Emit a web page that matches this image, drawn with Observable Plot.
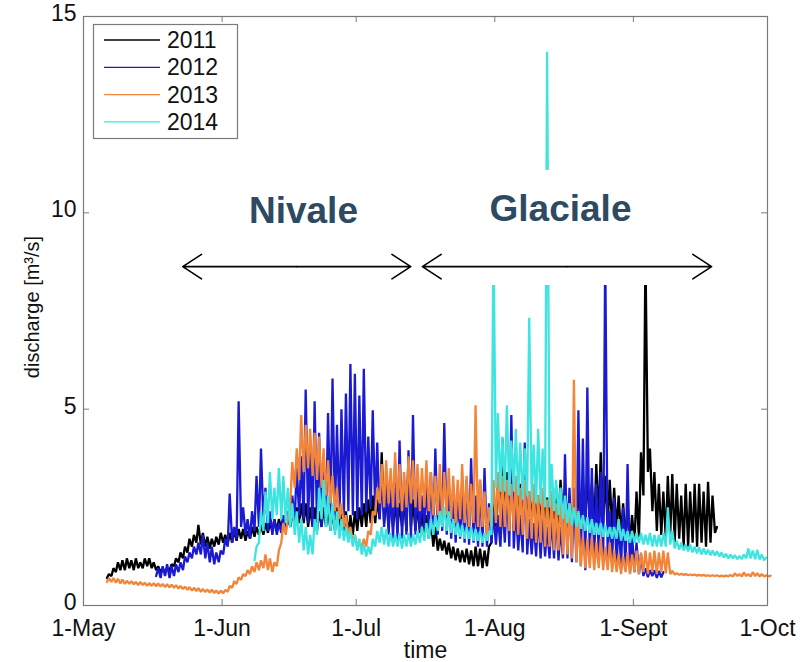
<!DOCTYPE html>
<html>
<head>
<meta charset="utf-8">
<script src="https://cdn.jsdelivr.net/npm/d3@7"></script>
<script src="https://cdn.jsdelivr.net/npm/@observablehq/plot@0.6"></script>
<style>
  html, body { margin: 0; padding: 0; background: #fff; }
  #chart svg { display: block; }
</style>
</head>
<body>
<div id="chart"></div>
<script>
// Seasonal discharge, 1 May – 1 Oct, one line per year.
// Each year is stored as daily minimum / daily maximum discharge [m³/s],
// starting at the day index given in startDay (0 = 1 May).
const years = ["2011", "2012", "2013", "2014"];
const colors = ["#000000", "#1a1ad2", "#f2853a", "#3ee4e0"];
const startDay = [5, 16, 5, 38];

const low2011 = [
  0.7,0.75,0.85,0.9,0.9,0.95,0.9,0.95,0.95,1.0,
  0.95,0.9,0.85,0.85,0.9,1.0,1.1,1.2,1.35,1.5,
  1.6,1.55,1.5,1.45,1.5,1.55,1.6,1.55,1.6,1.65,
  1.7,1.65,1.7,1.75,1.8,1.8,1.85,1.9,1.9,1.95,
  2.0,2.0,2.0,2.1,2.1,2.0,2.0,1.95,2.0,2.0,
  1.9,1.9,2.0,1.9,1.8,1.8,1.9,2.0,2.0,2.1,
  2.1,2.2,2.1,2.0,2.0,2.0,2.0,1.9,2.0,1.9,
  1.85,1.8,1.7,1.5,1.4,1.4,1.3,1.2,1.15,1.1,
  1.1,1.05,1.0,1.0,0.95,1.0,1.6,2.0,2.3,2.2,
  2.1,2.0,2.1,2.0,2.0,2.1,2.0,2.1,2.2,2.1,
  2.2,2.1,2.2,2.1,2.0,2.1,2.0,2.2,2.1,2.0,
  2.2,2.1,2.0,2.0,1.9,1.8,1.7,1.6,1.6,1.7,
  2.8,3.4,2.4,1.9,1.8,1.7,1.8,1.6,1.7,1.5,
  1.5,1.6,1.5,1.6,1.5,1.6,1.85
];
const high2011 = [
  0.8,0.95,1.1,1.15,1.2,1.15,1.2,1.1,1.2,1.2,
  1.1,1.0,0.95,0.95,1.05,1.2,1.35,1.5,1.7,1.8,
  2.05,1.85,1.75,1.7,1.75,1.85,1.8,1.85,1.9,1.95,
  1.95,1.9,2.0,2.0,2.05,2.1,2.1,2.2,2.2,2.3,
  2.3,2.4,2.5,2.6,2.6,2.5,2.5,2.4,2.5,2.5,
  2.4,2.5,2.5,2.4,2.3,2.4,2.5,2.6,2.7,2.8,
  2.7,3.9,2.8,2.7,2.6,2.6,2.7,3.8,2.7,2.6,
  2.4,2.3,2.2,2.0,1.7,1.65,1.6,1.5,1.45,1.4,
  1.45,1.4,1.5,1.45,1.4,1.5,2.6,3.2,4.25,3.4,
  3.2,3.0,3.1,3.0,2.9,3.0,2.8,2.9,2.75,2.9,
  3.0,3.2,2.9,2.8,2.7,3.0,2.9,3.3,3.1,3.6,
  3.9,3.3,3.2,3.0,2.8,2.6,2.5,2.3,2.9,3.9,
  9.0,4.0,3.4,3.1,2.9,3.3,3.35,3.1,2.8,3.1,
  2.9,3.1,3.1,2.9,3.15,2.8,2.0
];

const low2012 = [
  0.75,0.7,0.75,0.7,0.75,0.85,0.9,1.1,1.2,1.3,
  1.3,1.2,1.1,1.05,1.1,1.3,1.5,1.6,1.7,2.0,
  1.8,1.7,1.9,2.0,2.1,1.9,1.8,1.8,1.85,1.9,
  2.0,2.2,2.3,2.2,2.1,2.0,1.9,2.0,2.1,2.2,
  2.3,2.2,2.3,2.4,2.3,2.2,2.3,2.4,2.5,2.4,
  2.2,2.0,1.8,1.7,1.6,1.7,1.8,1.7,1.8,1.9,
  2.0,1.9,1.8,1.8,1.9,1.8,1.7,1.6,1.7,1.6,
  1.55,1.6,1.5,1.5,1.5,1.6,1.55,1.5,1.6,1.5,
  1.45,1.4,1.35,1.3,1.3,1.25,1.2,1.25,1.2,1.2,
  1.15,1.2,1.2,1.1,1.1,1.0,0.9,1.1,1.2,1.3,
  1.2,1.2,1.1,1.0,1.0,0.9,0.85,0.85,0.8,0.75,
  0.72,0.75,0.7,0.72
];
const high2012 = [
  0.95,1.0,1.05,1.0,1.05,1.1,1.25,1.35,1.5,1.6,
  1.8,1.6,1.5,1.35,1.4,1.7,2.85,2.0,5.2,2.5,
  2.2,2.4,3.3,4.0,3.0,2.4,2.2,2.1,2.3,2.4,
  2.8,3.5,3.8,5.5,4.0,5.2,4.4,3.8,4.9,5.78,
  4.6,5.0,5.4,6.15,5.9,5.35,6.03,4.3,4.97,4.15,
  3.4,3.2,3.0,3.6,4.2,3.2,3.95,4.85,3.0,2.8,
  3.1,3.4,4.0,3.2,4.65,3.1,2.8,3.0,2.9,3.2,
  3.75,2.8,3.2,3.5,2.6,2.4,2.3,2.6,3.0,4.85,
  2.5,2.3,4.15,2.2,2.1,2.4,2.2,2.0,2.3,2.4,
  2.0,3.85,3.0,3.0,4.97,4.25,5.55,3.5,3.1,3.4,
  9.0,2.4,2.75,2.2,2.5,3.6,1.8,1.6,1.3,0.95,
  0.9,0.9,0.88,0.85
];

const low2013 = [
  0.6,0.6,0.58,0.56,0.55,0.55,0.54,0.52,0.52,0.5,
  0.5,0.49,0.48,0.47,0.46,0.45,0.43,0.42,0.4,0.38,
  0.37,0.35,0.34,0.33,0.32,0.3,0.31,0.35,0.45,0.55,
  0.65,0.75,0.8,0.85,0.9,0.95,0.9,0.85,1.0,1.6,
  1.8,2.6,3.0,3.2,3.4,3.5,3.3,3.2,3.0,2.8,
  2.6,2.4,2.2,2.0,1.8,1.6,1.5,1.45,1.5,1.8,
  2.3,2.6,2.5,2.6,2.5,2.5,2.4,2.5,2.6,2.5,
  2.4,2.5,2.4,2.3,2.3,2.2,2.3,2.2,2.1,2.2,
  2.1,2.0,2.1,2.0,2.0,1.65,2.0,2.1,2.0,2.0,
  1.9,1.9,1.8,1.8,1.7,1.7,1.6,1.6,1.5,1.5,
  1.4,1.4,1.3,1.3,1.2,1.1,1.0,0.95,0.95,0.9,
  0.95,0.9,0.9,0.85,0.85,0.8,0.85,0.8,0.85,0.8,
  0.85,0.8,0.85,0.8,0.85,0.82,0.8,0.79,0.78,0.78,
  0.77,0.77,0.76,0.76,0.75,0.75,0.75,0.74,0.74,0.74,
  0.74,0.75,0.74,0.75,0.74,0.75,0.74,0.74,0.74
];
const high2013 = [
  0.7,0.7,0.68,0.66,0.63,0.62,0.6,0.6,0.58,0.57,
  0.57,0.56,0.55,0.54,0.53,0.52,0.5,0.48,0.47,0.45,
  0.44,0.42,0.41,0.4,0.38,0.38,0.4,0.5,0.62,0.72,
  0.8,0.9,1.0,1.1,1.15,1.3,1.2,1.1,1.4,2.1,
  2.2,3.65,4.0,4.85,4.6,4.5,4.4,4.3,4.0,3.7,
  3.3,3.0,2.6,2.3,2.0,1.8,1.65,1.7,1.9,2.4,
  3.0,3.6,3.7,3.5,3.9,3.6,3.4,3.8,3.7,3.6,
  3.5,3.7,3.4,3.3,3.6,3.4,3.5,3.3,3.2,3.6,
  3.3,3.1,5.1,3.2,2.9,2.5,3.2,3.4,3.3,3.2,
  3.1,3.3,3.0,3.2,2.9,3.1,2.8,3.0,2.7,2.9,
  2.6,2.8,2.5,2.6,5.75,2.2,1.75,1.7,1.75,1.6,
  1.7,1.5,1.6,1.4,1.3,1.25,1.35,1.3,1.4,1.35,
  1.4,1.35,1.4,1.35,1.4,1.35,0.88,0.82,0.81,0.8,
  0.79,0.79,0.78,0.78,0.77,0.77,0.77,0.76,0.76,0.78,
  0.82,0.8,0.84,0.8,0.85,0.82,0.8,0.77,0.76
];

const low2014 = [
  1.15,1.6,1.9,2.1,2.2,2.3,2.2,2.1,2.0,1.8,
  1.6,1.4,1.3,1.3,1.8,2.2,2.0,1.9,1.8,1.7,
  1.65,1.6,1.5,1.4,1.3,1.25,1.3,1.5,1.6,1.55,
  1.5,1.5,1.5,1.45,1.5,1.5,1.55,1.6,1.65,1.7,
  1.8,1.9,2.0,1.9,1.85,1.8,1.75,1.7,1.7,1.65,
  1.65,1.6,1.65,1.8,3.0,2.9,2.9,2.8,2.9,2.8,
  2.7,2.8,2.7,2.6,2.6,2.5,2.5,2.4,2.3,2.2,
  2.1,2.05,2.0,1.95,1.9,1.85,1.8,1.8,1.75,1.75,
  1.7,1.7,1.65,1.65,1.6,1.6,1.6,1.55,1.55,1.5,
  1.5,1.5,1.5,1.55,1.45,1.42,1.4,1.38,1.35,1.33,
  1.3,1.3,1.28,1.27,1.25,1.22,1.2,1.2,1.18,1.18,
  1.2,1.2,1.18,1.17,1.15
];
const high2014 = [
  1.5,2.4,2.9,3.4,3.0,3.5,3.3,3.0,2.6,2.4,
  2.2,2.0,1.8,2.2,3.0,3.2,2.8,2.6,2.4,2.2,
  2.0,1.9,1.8,1.7,1.55,1.5,1.7,1.9,2.0,1.95,
  1.85,1.8,1.85,1.8,1.85,1.8,1.9,2.0,2.1,2.2,
  2.3,2.4,2.5,2.4,2.2,2.1,2.05,2.0,2.0,1.95,
  1.9,1.85,1.9,9.5,4.9,4.3,5.1,4.2,4.5,4.15,
  4.0,7.33,4.1,4.5,4.0,14.1,3.6,3.2,3.0,2.8,
  2.6,2.5,2.4,2.3,2.25,2.2,2.1,2.1,2.05,2.0,
  2.0,2.2,1.95,1.9,1.9,1.85,1.85,1.8,1.85,1.8,
  1.8,1.85,2.5,1.9,1.65,1.6,1.55,1.55,1.5,1.48,
  1.45,1.42,1.4,1.38,1.35,1.32,1.3,1.28,1.26,1.3,
  1.45,1.4,1.42,1.3,1.22
];

const lows = [low2011, low2012, low2013, low2014];
const highs = [high2011, high2012, high2013, high2014];

// Axis ticks (day index from 1 May) and their labels
const tickDays = [0, 31, 61, 92, 123, 153];
const tickLabels = ["1-May", "1-Jun", "1-Jul", "1-Aug", "1-Sept", "1-Oct"];
const yTicks = [0, 5, 10, 15];

// Regime annotations: snow-melt (Nivale) and glacier-melt (Glaciale) periods
const phases = [
  {name: "Nivale",   from: 22.2, to: 73.2,  labelDay: 49.2,  labelQ: 10.03},
  {name: "Glaciale", from: 75.8, to: 140.5, labelDay: 106.7, labelQ: 10.1}
];
const arrowQ = 8.63;
// White panel behind the annotations
const panel = [{from: 21, to: 142, q1: 8.15, q2: 11.08}];

// Diurnal cycle: the minimum falls in the morning, the peak in the afternoon.
function seriesRows(k) {
  const rows = [];
  lows[k].forEach((lo, i) => {
    rows.push({year: years[k], day: startDay[k] + i + 0.25, q: lo});
    rows.push({year: years[k], day: startDay[k] + i + 0.7, q: highs[k][i]});
  });
  return rows;
}

const axisGray = "#7a7a7a";
const font = "'Liberation Sans', Arial, Helvetica, sans-serif";

// Double-headed arrows: two heads drawn outward from the midpoint
const arrowSegs = phases.flatMap(p => {
  const mid = (p.from + p.to) / 2;
  return [{x1: mid, x2: p.from}, {x1: mid, x2: p.to}];
});

const chart = Plot.plot({
  width: 805,
  height: 662,
  marginLeft: 83,
  marginRight: 38,
  marginTop: 16,
  marginBottom: 57,
  style: {fontFamily: font, fontSize: "23px", background: "#fff", color: "#000"},
  x: {domain: [0, 153], axis: null},
  y: {domain: [0, 15], axis: null},
  marks: [
    ...years.map((y, k) => Plot.line(seriesRows(k), {
      x: "day", y: "q", stroke: colors[k], strokeWidth: 2.3, strokeLinejoin: "miter"
    })),
    Plot.rect(panel, {x1: "from", x2: "to", y1: "q1", y2: "q2", fill: "white"}),
    Plot.frame({stroke: axisGray, strokeWidth: 1.2}),
    // inward ticks on all four sides
    Plot.ruleX(tickDays, {x: d => d, y1: 0, y2: 0, insetTop: -6, stroke: axisGray}),
    Plot.ruleX(tickDays, {x: d => d, y1: 15, y2: 15, insetBottom: -6, stroke: axisGray}),
    Plot.ruleY(yTicks, {y: d => d, x1: 0, x2: 0, insetRight: -6, stroke: axisGray}),
    Plot.ruleY(yTicks, {y: d => d, x1: 153, x2: 153, insetLeft: -6, stroke: axisGray}),
    // tick labels
    Plot.text(tickDays, {x: d => d, frameAnchor: "bottom", lineAnchor: "middle", dy: 23,
      text: (d, i) => tickLabels[i], fill: "#111"}),
    Plot.text(yTicks, {y: d => d, frameAnchor: "left", lineAnchor: "middle", dx: -7, dy: -3,
      textAnchor: "end", text: d => String(d), fill: "#111"}),
    // axis titles
    Plot.text(["time"], {frameAnchor: "bottom", lineAnchor: "middle", dy: 45, text: d => d, fill: "#111"}),
    Plot.text(["discharge [m³/s]"], {frameAnchor: "left", textAnchor: "middle", lineAnchor: "middle",
      dx: -51, dy: -4, rotate: -90, text: d => d, fontSize: 20, fill: "#111"}),
    // regime annotations
    Plot.arrow(arrowSegs, {x1: "x1", x2: "x2", y1: () => arrowQ, y2: () => arrowQ,
      stroke: "#000", strokeWidth: 1.6, headLength: 21, headAngle: 66}),
    Plot.text(phases, {x: "labelDay", y: "labelQ", text: "name", fontWeight: "bold", fontSize: 37, fill: "#2e4a62"})
  ]
});

document.getElementById("chart").appendChild(chart);

// MATLAB-style boxed legend in the upper-left corner
const svg = d3.select(chart);
const lg = svg.append("g")
  .attr("font-family", font).attr("font-size", 23).attr("text-anchor", "start");
lg.append("rect")
  .attr("x", 93.5).attr("y", 24.5).attr("width", 144).attr("height", 114)
  .attr("fill", "#fff").attr("stroke", axisGray).attr("stroke-width", 1.2);
years.forEach((yr, k) => {
  const base = 48 + k * 27.3;
  lg.append("line")
    .attr("x1", 104).attr("x2", 160).attr("y1", base - 8).attr("y2", base - 8)
    .attr("stroke", colors[k]).attr("stroke-width", 1.3);
  lg.append("text").attr("x", 167).attr("y", base).attr("fill", "#111").text(yr);
});
</script>
</body>
</html>
